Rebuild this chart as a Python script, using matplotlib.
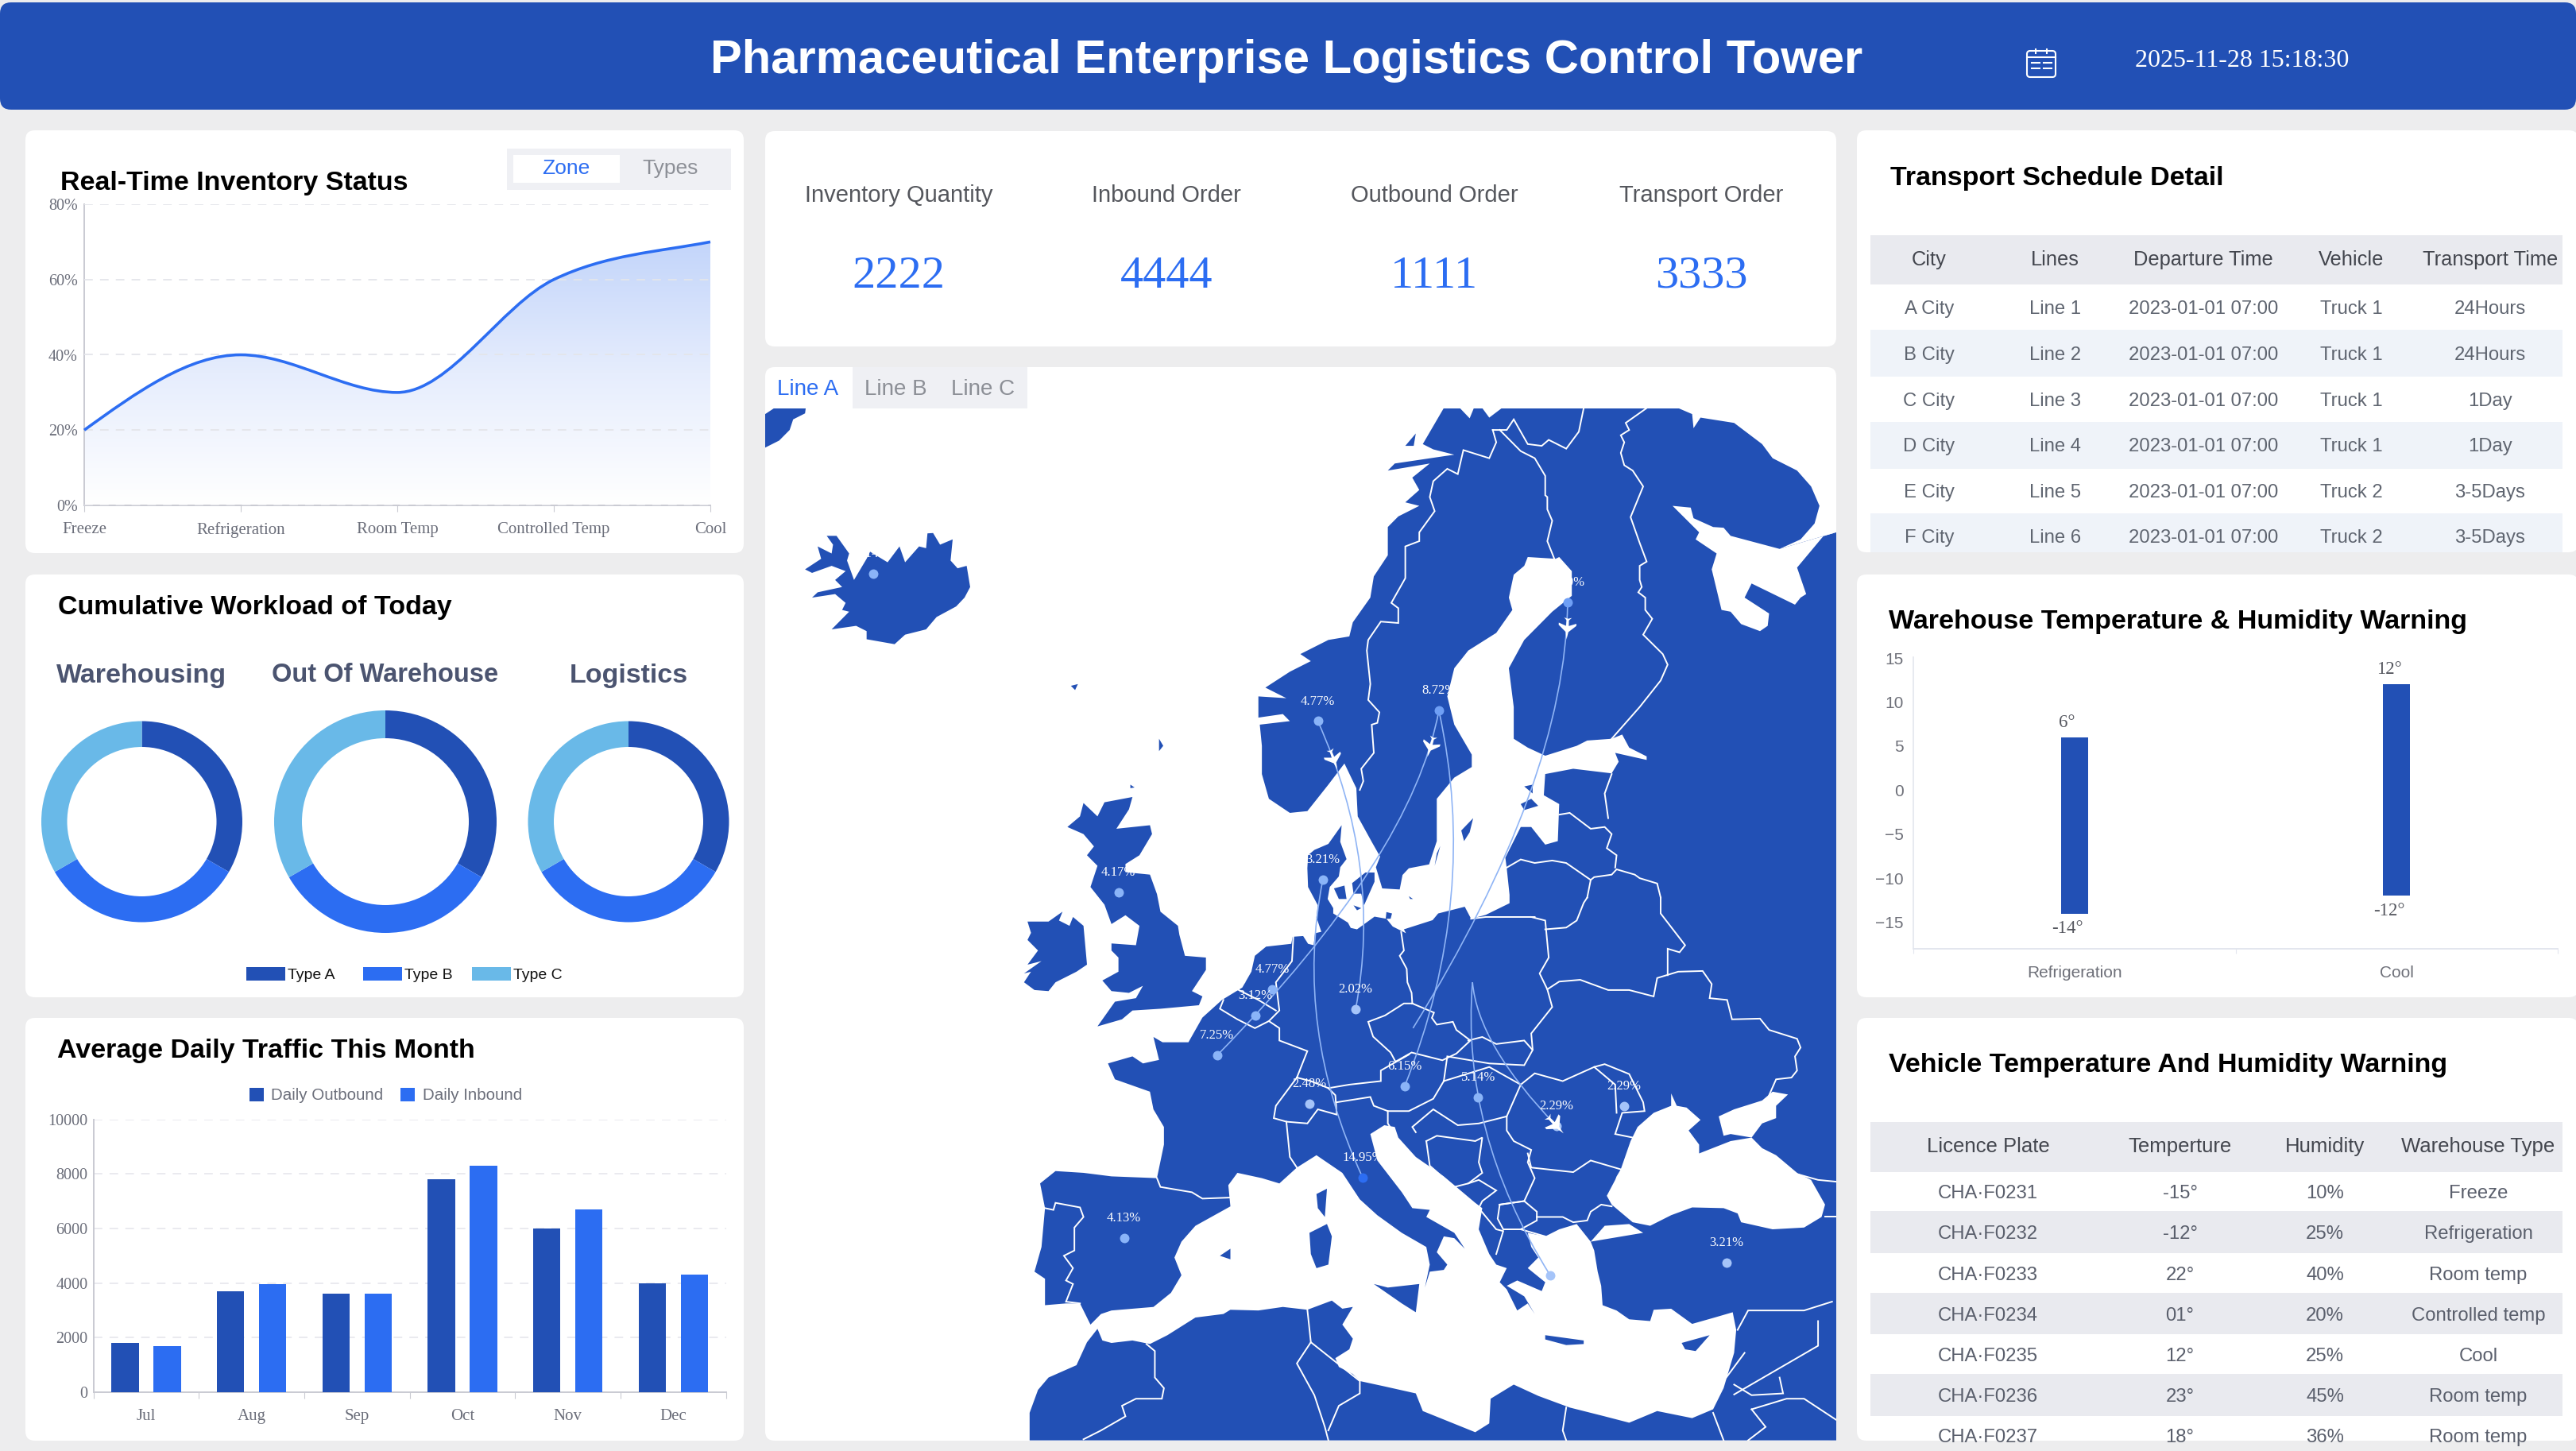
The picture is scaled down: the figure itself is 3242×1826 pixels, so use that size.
import numpy as np
import matplotlib
matplotlib.use("Agg")
from matplotlib import pyplot as plt
from matplotlib.patches import FancyBboxPatch, PathPatch, Polygon, Rectangle
from matplotlib.path import Path
from matplotlib.transforms import Affine2D
from matplotlib.colors import LinearSegmentedColormap

W, H = 3242, 1826
SANS = "Liberation Sans"
SERIF = "Liberation Serif"
DARK = "#2250b5"
MID = "#2c6df2"
LIGHT = "#69b9e8"
BG = "#ededee"

# ---- chart values ----
zones = ["Freeze", "Refrigeration", "Room Temp", "Controlled Temp", "Cool"]
zone_pct = [20, 40, 30, 60, 70]

workload_names = ["Warehousing", "Out Of Warehouse", "Logistics"]
type_names = ["Type A", "Type B", "Type C"]
workload_a = [100, 100, 100]
workload_b = [100, 100, 100]
workload_c = [100, 100, 100]

months = ["Jul", "Aug", "Sep", "Oct", "Nov", "Dec"]
daily_outbound = [1800, 3700, 3600, 7800, 6000, 4000]
daily_inbound = [1700, 3950, 3600, 8300, 6700, 4300]

stat_names = ["Inventory Quantity", "Inbound Order", "Outbound Order", "Transport Order"]
stat_values = ["2222", "4444", "1111", "3333"]

schedule_head = ["City", "Lines", "Departure Time", "Vehicle", "Transport Time"]
schedule_city = ["A City", "B City", "C City", "D City", "E City", "F City"]
schedule_line = ["Line 1", "Line 2", "Line 3", "Line 4", "Line 5", "Line 6"]
schedule_depart = ["2023-01-01 07:00"] * 6
schedule_truck = ["Truck 1", "Truck 1", "Truck 1", "Truck 1", "Truck 2", "Truck 2"]
schedule_time = ["24Hours", "24Hours", "1Day", "1Day", "3-5Days", "3-5Days"]

range_names = ["Refrigeration", "Cool"]
range_high = [6, 12]
range_low = [-14, -12]

vehicle_head = ["Licence Plate", "Temperture", "Humidity", "Warehouse Type"]
vehicle_plate = ["CHA·F0231", "CHA·F0232", "CHA·F0233", "CHA·F0234", "CHA·F0235", "CHA·F0236", "CHA·F0237"]
vehicle_temp = ["-15°", "-12°", "22°", "01°", "12°", "23°", "18°"]
vehicle_hum = ["10%", "25%", "40%", "20%", "25%", "45%", "36%"]
vehicle_type = ["Freeze", "Refrigeration", "Room temp", "Controlled temp", "Cool", "Room temp", "Room temp"]


# ---- map outlines ----
def south(pts):
    return [(x, y + 1530) for x, y in pts]


MAIN_COAST = [
    (985, 143), (1008, 143), (1022, 172), (1028, 143), (1040, 143), (1050, 170), (1068, 143),
    (1320, 143), (1340, 160), (1342, 200), (1352, 170), (1400, 185), (1440, 245), (1455, 285),
    (1490, 320), (1510, 365), (1522, 420), (1515, 470), (1495, 515), (1465, 542), (1546, 495),
    (1546, 3068),
] + south([
    (393, 1538), (393, 1460), (405, 1395), (420, 1360), (460, 1325), (475, 1260), (490, 1222),
    (497, 1255), (510, 1262), (540, 1255), (565, 1265), (590, 1240), (610, 1215), (630, 1190),
    (670, 1180), (680, 1168), (720, 1170), (755, 1160), (790, 1168), (825, 1142), (840, 1165),
    (855, 1160), (840, 1210), (855, 1250), (850, 1280), (830, 1305), (835, 1330), (855, 1350),
    (865, 1370), (900, 1385), (945, 1405), (955, 1455), (1030, 1515), (1050, 1490), (1052, 1420),
    (1085, 1380), (1120, 1412), (1165, 1445), (1215, 1470), (1250, 1488), (1290, 1455),
    (1340, 1475), (1370, 1450), (1385, 1390), (1400, 1290), (1403, 1225), (1398, 1175),
    (1372, 1190), (1340, 1208), (1310, 1165), (1285, 1168), (1280, 1200), (1250, 1195),
    (1232, 1170), (1212, 1155), (1210, 1100), (1205, 1060), (1200, 1000), (1195, 975),
    (1270, 950), (1250, 925), (1215, 930), (1195, 975), (1185, 950), (1175, 925), (1150, 940),
    (1130, 960), (1105, 950), (1110, 990), (1120, 1020), (1105, 1050), (1130, 1090),
    (1125, 1115), (1090, 1085), (1075, 1100), (1100, 1130), (1115, 1180), (1105, 1150),
    (1090, 1170), (1075, 1110), (1065, 1090), (1075, 1050), (1060, 1040), (1050, 1010),
    (1035, 940), (1040, 880), (1030, 865), (985, 790), (945, 735), (920, 680), (915, 650),
    (900, 645), (880, 670), (890, 745), (925, 835), (940, 880), (965, 885), (960, 905),
    (1000, 950), (1015, 995), (1000, 965), (985, 960), (975, 1005), (990, 1040), (985, 1055),
    (965, 1060), (958, 1105), (965, 1040), (960, 990), (925, 950), (890, 900), (865, 855),
    (840, 780), (803, 730), (775, 765), (750, 810), (725, 795), (690, 780), (677, 815),
    (680, 875), (630, 930), (610, 975), (600, 1020), (610, 1070), (595, 1120), (570, 1160),
    (510, 1170), (495, 1180), (480, 1210), (465, 1150), (445, 1150), (415, 1155), (415, 1080),
    (400, 1060), (410, 990), (415, 880), (408, 810), (430, 775), (470, 780), (510, 790),
    (575, 795), (585, 700), (585, 650), (570, 600), (565, 550), (515, 515), (505, 470),
    (540, 450), (555, 470), (578, 460), (570, 395), (583, 410), (620, 410), (640, 340),
    (668, 290), (697, 255), (710, 210),
]) + [
    (715, 1695), (731, 1669), (767, 1661), (769, 1641), (784, 1639), (791, 1661), (799, 1665),
    (801, 1631), (810, 1627), (803, 1586), (805, 1552), (791, 1500), (790, 1447), (791, 1410),
    (800, 1395), (820, 1378), (839, 1325), (837, 1372), (846, 1421), (837, 1444), (835, 1470),
    (822, 1500), (819, 1534), (827, 1560), (827, 1575), (848, 1601), (852, 1616), (861, 1620),
    (886, 1584), (903, 1590), (912, 1612), (924, 1624), (931, 1631), (928, 1620), (969, 1594),
    (977, 1575), (1015, 1556), (1024, 1590), (1045, 1579), (1079, 1546), (1079, 1522),
    (1075, 1447), (1073, 1417), (1095, 1330),
    (1110, 1330), (1130, 1380), (1148, 1370), (1150, 1265), (1128, 1240), (1130, 1180),
    (1170, 1165), (1225, 1178), (1235, 1145), (1230, 1120), (1275, 1140), (1275, 1130),
    (1250, 1105), (1240, 1068), (1225, 1080), (1190, 1085), (1175, 1100), (1130, 1128),
    (1105, 1105), (1085, 1080), (1085, 990), (1078, 880), (1100, 800), (1140, 720), (1168, 675),
    (1168, 605), (1150, 565), (1145, 570), (1105, 565), (1100, 590), (1085, 615), (1078, 680),
    (1083, 715), (1060, 780), (1020, 830), (1000, 880), (990, 960), (1000, 1040), (1025, 1125),
    (1025, 1160), (1000, 1190), (975, 1250), (975, 1370), (964, 1436), (935, 1447), (926, 1466),
    (922, 1507), (897, 1504), (888, 1444), (894, 1414), (882, 1372), (862, 1300), (860, 1220),
    (843, 1150), (820, 1210), (790, 1285),
    (765, 1290), (735, 1250), (725, 1180), (725, 1100), (722, 1040), (765, 1030), (755, 1010),
    (720, 1020), (720, 960), (760, 965), (730, 935), (765, 890), (795, 860), (780, 840),
    (820, 800), (850, 790), (855, 750), (880, 680), (885, 620), (905, 560), (905, 480),
    (920, 450), (950, 420), (930, 410), (950, 375), (940, 340), (965, 300), (905, 320),
    (915, 300), (1000, 275), (970, 260), (955, 245),
]

WHITE_SEA = [
    (1546, 495), (1530, 500), (1490, 595), (1503, 670), (1495, 680), (1487, 700), (1425, 640),
    (1415, 680), (1450, 725), (1448, 760), (1437, 775), (1410, 755), (1395, 720), (1382, 715),
    (1368, 600), (1375, 555), (1345, 515), (1350, 495), (1312, 420), (1338, 425), (1342, 455),
    (1370, 480), (1385, 482), (1395, 505), (1465, 542),
]
BLACK_SEA = south([
    (1232, 790), (1238, 770), (1252, 690), (1262, 650), (1285, 610), (1310, 590), (1310, 555),
    (1318, 590), (1332, 595), (1352, 630), (1335, 660), (1350, 700), (1350, 725), (1395, 690),
    (1425, 680), (1440, 710), (1460, 730), (1490, 780), (1510, 800), (1530, 870), (1525, 905),
    (1500, 935), (1455, 940), (1410, 920), (1405, 895), (1385, 880), (1340, 878), (1310, 900),
    (1280, 930), (1255, 920), (1225, 870), (1218, 845), (1230, 800),
])
AZOV_SEA = south([
    (1385, 675), (1378, 620), (1400, 600), (1440, 575), (1455, 550), (1477, 558), (1460, 590),
    (1460, 625), (1440, 640), (1425, 680), (1395, 670),
])
ISLANDS = [
    # Greenland corner
    [(15, 160), (28, 143), (73, 143), (72, 158), (55, 175), (50, 205), (35, 235), (15, 255)],
    # Iceland
    [(103, 505), (117, 505), (135, 555), (132, 575), (142, 630), (160, 570), (165, 550), (190, 580),
     (207, 535), (215, 580), (235, 535), (245, 540), (247, 498), (255, 497), (265, 530), (283, 515),
     (280, 575), (290, 597), (303, 590), (308, 650), (300, 680), (288, 705), (260, 735), (245, 770),
     (215, 785), (200, 812), (160, 798), (160, 775), (145, 760), (110, 770), (135, 720), (125, 715),
     (130, 695), (115, 670), (82, 680), (90, 665), (125, 650), (115, 630), (130, 605), (110, 590),
     (82, 610), (72, 600), (95, 570), (90, 535), (110, 555), (112, 530)],
    # Great Britain
    [(540, 1245), (535, 1280), (517, 1335), (565, 1325), (568, 1350), (550, 1410), (530, 1435),
     (530, 1458), (565, 1465), (575, 1520), (580, 1570), (605, 1610), (607, 1635), (615, 1695),
     (645, 1700), (645, 1735), (625, 1795), (640, 1810), (635, 1835), (580, 1845), (540, 1850),
     (525, 1875), (490, 1895), (515, 1825), (545, 1815), (555, 1780), (535, 1800), (510, 1795),
     (497, 1765), (520, 1740), (520, 1700), (510, 1680), (510, 1660), (545, 1665), (550, 1610),
     (530, 1580), (510, 1605), (500, 1550), (480, 1500), (490, 1440), (475, 1410), (485, 1385),
     (470, 1350), (447, 1330), (465, 1300), (470, 1262), (490, 1300), (500, 1260)],
    # Ireland
    south([(390, 68), (420, 68), (440, 40), (435, 65), (450, 80), (455, 55), (470, 80), (475, 190),
           (460, 210), (430, 240), (420, 265), (400, 262), (385, 240), (395, 210), (385, 215),
           (410, 180), (390, 190), (405, 150), (390, 120), (395, 100)]),
    # Mediterranean islands
    south([(885, 1095), (905, 1105), (950, 1095), (945, 1175), (925, 1150)]),
    south([(793, 950), (818, 925), (825, 960), (820, 1040), (803, 1050), (795, 1010)]),
    south([(803, 840), (818, 825), (815, 905), (805, 880)]),
    south([(665, 1015), (680, 995), (680, 1025)]),
    south([(1130, 1240), (1185, 1255), (1185, 1265), (1160, 1268), (1130, 1252)]),
    south([(1325, 1262), (1365, 1240), (1345, 1285), (1330, 1280)]),
    # Baltic and northern bits
    [(1010, 1340), (1027, 1305), (1022, 1345), (1014, 1370)],
    [(1095, 1265), (1110, 1250), (1120, 1270), (1100, 1282)],
    [(1100, 1215), (1112, 1210), (1112, 1235)],
    [(828, 1504), (843, 1496), (846, 1534), (835, 1534)],
    [(854, 1489), (873, 1459), (886, 1459), (886, 1485), (871, 1552), (867, 1519), (856, 1519)],
    [(856, 1552), (867, 1560), (861, 1566)],
    [(903, 1571), (911, 1575), (909, 1590), (902, 1590)],
    [(935, 1526), (941, 1534), (937, 1534)],
    [(980, 1384), (972, 1440), (975, 1405)],
    [(452, 930), (462, 925), (458, 942)],
    [(578, 1080), (584, 1100), (578, 1115)],
    [(537, 1210), (543, 1218), (537, 1220)],
    [(930, 250), (945, 215), (942, 250)],
]
BORDERS = [
    [(1055, 205), (1075, 205), (1085, 175), (1105, 245), (1125, 250), (1135, 233), (1160, 258),
     (1178, 210), (1185, 143)],
    [(1055, 205), (1060, 240), (1050, 285), (1013, 262), (1005, 330), (990, 315), (970, 350),
     (965, 395), (972, 435), (950, 495), (950, 520), (930, 535), (930, 625), (910, 695), (920, 710),
     (920, 752), (895, 748), (877, 800), (875, 830), (880, 925), (877, 970), (893, 1005), (890, 1035),
     (882, 1040), (885, 1120), (867, 1165), (870, 1200), (865, 1225)],
    [(1065, 205), (1095, 265), (1115, 285), (1130, 335), (1130, 390), (1133, 395), (1133, 430),
     (1140, 462), (1133, 520), (1143, 570)],
    [(1275, 143), (1245, 185), (1250, 205), (1238, 220), (1243, 240), (1238, 270), (1243, 305),
     (1255, 320), (1270, 365), (1252, 452), (1265, 525), (1275, 578), (1265, 590), (1265, 630),
     (1268, 650), (1263, 665), (1273, 680), (1273, 715), (1283, 740), (1270, 785), (1298, 840),
     (1305, 870), (1295, 915), (1265, 990), (1225, 1080)],
    [(1225, 1180), (1215, 1235), (1220, 1305)],
    [(1150, 1295), (1165, 1290), (1195, 1335), (1215, 1330), (1225, 1350), (1218, 1390), (1232, 1410),
     (1230, 1445)],
    [(1075, 1445), (1095, 1422), (1115, 1432), (1140, 1425), (1160, 1432), (1195, 1480), (1200, 1472),
     (1225, 1465), (1232, 1450), (1258, 1465), (1265, 1475), (1290, 1490), (1295, 1530)],
    [(1195, 1480), (1190, 1530)],
    # Germany / Poland and Czechia, from the closer look
    [(924, 1627), (928, 1680), (922, 1695), (932, 1732), (933, 1770), (939, 1800), (940, 1830)],
    [(940, 1830), (928, 1830), (901, 1864), (877, 1882), (884, 1924), (909, 1969), (916, 1995),
     (939, 1969), (983, 1991), (1003, 1972), (1023, 1935), (1003, 1905), (998, 1882), (975, 1890),
     (968, 1871), (971, 1856), (940, 1830)],
] + [south(b) for b in [
    [(1110, 55), (1130, 65), (1135, 170), (1122, 215), (1133, 260), (1140, 310), (1110, 385), (1112, 430)],
    [(1024, 60), (1045, 55), (1115, 55)],
    [(1130, 90), (1160, 85), (1175, 65), (1185, 15), (1190, 0)],
    [(1133, 260), (1150, 238), (1180, 233), (1220, 262), (1250, 262), (1285, 280), (1290, 228),
     (1320, 210), (1355, 208), (1368, 245), (1365, 285), (1390, 290), (1397, 345), (1437, 343),
     (1450, 375), (1490, 400), (1495, 425), (1487, 450), (1490, 490), (1482, 510), (1460, 515), (1450, 560)],
    [(1295, 0), (1295, 45), (1330, 135), (1322, 155), (1305, 145), (1305, 220)],
    [(770, 110), (768, 180), (745, 240), (750, 320), (735, 350), (750, 370), (750, 405), (790, 435),
     (775, 510), (745, 590), (742, 625), (760, 635), (790, 640), (805, 600), (832, 615), (830, 560),
     (820, 540), (795, 520), (775, 510)],
    [(670, 290), (665, 315), (690, 345), (715, 370), (735, 350)],
    [(700, 240), (690, 260), (720, 290), (745, 320)],
    [(760, 635), (765, 735), (775, 765)],
    [(832, 580), (880, 565), (885, 590), (905, 605), (905, 640), (915, 670)],
    [(820, 540), (850, 530), (895, 520), (895, 490), (935, 445)],
    [(1020, 405), (1040, 395), (1060, 415), (1100, 405), (1112, 432), (1100, 475), (1050, 470), (990, 450), (985, 520)],
    [(985, 520), (970, 570), (935, 605), (905, 605)],
    [(985, 520), (1050, 480), (1095, 530), (1075, 620), (1035, 640), (1005, 645), (970, 600), (940, 650), (945, 665)],
    [(1095, 530), (1115, 498), (1155, 520), (1200, 480), (1215, 472), (1250, 500), (1270, 580), (1272, 605),
     (1240, 610), (1230, 670), (1255, 680)],
    [(1200, 480), (1230, 530), (1232, 610)],
    [(1105, 725), (1110, 765), (1170, 778), (1195, 745), (1238, 770)],
    [(1075, 620), (1075, 660), (1085, 690), (1110, 715), (1105, 750), (1115, 795), (1100, 860), (1065, 870)],
    [(960, 690), (975, 675), (1030, 690), (1040, 680), (1035, 750), (1040, 780), (1020, 810), (1000, 820)],
    [(960, 690), (965, 760), (1000, 820)],
    [(1020, 810), (1035, 800), (1060, 830), (1040, 860), (1035, 880), (1060, 940), (1070, 945), (1060, 1010)],
    [(1065, 870), (1100, 860), (1118, 890), (1118, 915), (1095, 940), (1070, 940), (1062, 910), (1065, 870)],
    [(1118, 905), (1155, 905), (1170, 920), (1190, 915), (1195, 890), (1210, 870), (1225, 875)],
    [(1095, 940), (1130, 960)],
    [(415, 880), (427, 885), (430, 865), (465, 878), (470, 905), (457, 935), (457, 1000), (442, 1015),
     (455, 1050), (445, 1085), (455, 1095), (445, 1145), (465, 1150)],
    [(575, 795), (580, 820), (625, 835), (640, 853), (680, 850)],
    [(560, 1265), (572, 1285), (572, 1360), (585, 1390), (582, 1420), (545, 1420), (525, 1440), (530, 1470),
     (495, 1510), (470, 1535)],
    [(790, 1168), (795, 1260), (775, 1320), (800, 1410), (815, 1500), (820, 1538)],
    [(795, 1260), (865, 1370), (865, 1405), (835, 1440), (820, 1510)],
    [(1160, 1445), (1155, 1510), (1160, 1538)],
    [(1370, 1460), (1385, 1538)],
    [(1405, 1225), (1420, 1170), (1460, 1170), (1500, 1170), (1540, 1145)],
    [(1520, 1200), (1520, 1270), (1400, 1408)],
    [(1400, 1380), (1425, 1410), (1470, 1405), (1465, 1360)],
    [(1425, 1450), (1475, 1420), (1500, 1420), (1546, 1480)],
    [(1425, 1450), (1445, 1500), (1420, 1538)],
    [(1415, 1290), (1400, 1330), (1385, 1370)],
    [(1530, 905), (1546, 905)],
    [(1493, 785), (1520, 800), (1546, 805)],
]]

# city dots: (x, y, share label, dot colour)
CITIES = {
    "iceland": (169, 613, "4.14%", "#8ab4f8"),
    "finland": (1162, 694, "2.10%", "#6f9ff5"),
    "sweden": (978, 1000, "8.72%", "#6f9ff5"),
    "norway": (805, 1030, "4.77%", "#8ab4f8"),
    "denmark": (812, 1480, "3.21%", "#8ab4f8"),
    "uk": (520, 1516, "4.17%", "#8ab4f8"),
    "netherlands": (740, 1790, "4.77%", "#8ab4f8"),
    "belgium": (716, 1865, "3.12%", "#8ab4f8"),
    "france": (661, 1977, "7.25%", "#8ab4f8"),
    "germany": (859, 1846, "2.02%", "#a5c4f9"),
    "switzerland": (793, 2115, "2.48%", "#a5c4f9"),
    "austria": (929, 2065, "6.15%", "#8ab4f8"),
    "hungary": (1034, 2096, "5.14%", "#8ab4f8"),
    "romania": (1146, 2177, "2.29%", "#a5c4f9"),
    "moldova": (1243, 2120, "2.29%", "#a5c4f9"),
    "italy": (869, 2323, "14.95%", "#2c6df2"),
    "spain": (528, 2495, "4.13%", "#8ab4f8"),
    "turkey": (1389, 2565, "3.21%", "#a5c4f9"),
}
GREECE = (1137, 2600)
HUB_EAST = (1026, 1770)
POLAND_END = (941, 1900)
# flight arcs: start, end, bend point, where the plane sits along the arc (None for no plane)
ROUTES = [
    (CITIES["finland"][:2], POLAND_END, (1159, 1203), 0.07),
    (CITIES["sweden"][:2], CITIES["france"][:2], (940, 1412), 0.12),
    (CITIES["sweden"][:2], CITIES["austria"][:2], (1037, 1528), None),
    (CITIES["norway"][:2], CITIES["germany"][:2], (898, 1442), 0.13),
    (CITIES["denmark"][:2], CITIES["italy"][:2], (770, 1899), None),
    (HUB_EAST, GREECE, (1009, 2195), None),
    (HUB_EAST, CITIES["romania"][:2], (1034, 1947), 0.99),
]
PLANE = Path([(0, 1), (0.12, 0.35), (0.8, -0.25), (0.8, -0.45), (0.12, -0.2), (0.1, -0.7), (0.35, -0.95),
              (0, -0.85), (-0.35, -0.95), (-0.1, -0.7), (-0.12, -0.2), (-0.8, -0.45), (-0.8, -0.25),
              (-0.12, 0.35), (0, 1)])

fig = plt.figure(figsize=(W / 100, H / 100), dpi=100, facecolor=BG)
base = fig.add_axes([0, 0, 1, 1])
base.set_xlim(0, W)
base.set_ylim(H, 0)
base.axis("off")


def px_axes(x0, y0, x1, y1, **kw):
    return fig.add_axes([x0 / W, 1 - y1 / H, (x1 - x0) / W, (y1 - y0) / H], **kw)


def panel(x0, y0, x1, y1, color="white", r=12):
    base.add_patch(FancyBboxPatch((x0, y0), x1 - x0, y1 - y0, boxstyle=f"round,pad=0,rounding_size={r}",
                                  fc=color, ec="none", zorder=1))


def label(x, y, s, size, color="#000000", font=SANS, weight="normal", ha="center", **kw):
    # va=center sits a little high against the picture, hence the 2 px
    return base.text(x, y + 2, s, fontsize=size, color=color, family=font, fontweight=weight,
                     ha=ha, va="center", zorder=5, **kw)


def rect(x0, y0, x1, y1, color):
    base.add_patch(Rectangle((x0, y0), x1 - x0, y1 - y0, fc=color, ec="none", zorder=2))


def grid_style(ax, color="#c9cad2"):
    for side in ["top", "right"]:
        ax.spines[side].set_visible(False)
    for side in ["left", "bottom"]:
        ax.spines[side].set_color(color)
        ax.spines[side].set_linewidth(1.4)
    ax.set_facecolor("none")


# header
panel(0, 3, W, 138, DARK, r=14)
label(1619, 74, "Pharmaceutical Enterprise Logistics Control Tower", 43, "white", weight="bold")
label(2822, 74, "2025-11-28 15:18:30", 23, "white", font=SERIF)
# calendar icon
base.add_patch(FancyBboxPatch((2551, 64), 36, 33, boxstyle="round,pad=0,rounding_size=4", fc="none", ec="white", lw=1.5, zorder=5))
base.plot([2551, 2587], [72, 72], color="white", lw=1.5, zorder=5)
base.plot([2562, 2562], [62, 67], color="white", lw=1.5, zorder=5)
base.plot([2576, 2576], [62, 67], color="white", lw=1.5, zorder=5)
for cy in [79, 86]:
    base.plot([2557, 2567], [cy, cy], color="white", lw=1.5, zorder=5)
    base.plot([2572, 2582], [cy, cy], color="white", lw=1.5, zorder=5)

# panels
panel(32, 164, 936, 696)
panel(32, 723, 936, 1255)
panel(32, 1281, 936, 1813)
panel(963, 165, 2311, 436)
panel(963, 462, 2311, 1813)
panel(2337, 164, 3245, 695)
panel(2337, 723, 3245, 1255)
panel(2337, 1281, 3245, 1813)

# ---- inventory line ----
label(76, 228, "Real-Time Inventory Status", 24.5, weight="bold", ha="left")
rect(638, 187, 920, 239, "#eff0f4")
rect(646, 195, 780, 230, "white")
label(712, 210, "Zone", 19, MID)
label(844, 210, "Types", 19, "#8c8f96")

ax = px_axes(106, 257, 894, 636)
grid_style(ax)
ax.set_xlim(0, len(zones) - 1)
ax.set_ylim(0, 80)
xs = np.arange(len(zones), dtype=float)
ys = np.array(zone_pct, dtype=float)
# tangents for the smoothed line: flat at turning points
steps = np.diff(ys)
tang = np.zeros(len(ys))
for i in range(1, len(ys) - 1):
    tang[i] = 0 if steps[i - 1] * steps[i] <= 0 else (steps[i - 1] + steps[i]) / 2
tang[0] = 1.5 * steps[0]
tang[-1] = 0.8 * steps[-1]
verts = [(xs[0], ys[0])]
codes = [Path.MOVETO]
for i in range(len(xs) - 1):
    verts += [(xs[i] + 1 / 3, ys[i] + tang[i] / 3), (xs[i + 1] - 1 / 3, ys[i + 1] - tang[i + 1] / 3), (xs[i + 1], ys[i + 1])]
    codes += [Path.CURVE4] * 3
curve = Path(verts, codes)
area = Path(verts + [(xs[-1], 0), (xs[0], 0), (xs[0], ys[0])], codes + [Path.LINETO, Path.LINETO, Path.LINETO])
fade = LinearSegmentedColormap.from_list("fade", ["#ffffff", "#e6edfd", "#c3d5fa"])
img = ax.imshow(np.linspace(1, 0, 256).reshape(-1, 1), extent=[0, 4, 0, 70], cmap=fade, aspect="auto", zorder=1)
img.set_clip_path(PathPatch(area, transform=ax.transData))
ax.add_patch(PathPatch(curve, fc="none", ec=MID, lw=2.6, zorder=3, clip_on=False))
ax.set_xlim(0, len(zones) - 1)
ax.set_ylim(0, 80)
ax.set_yticks([0, 20, 40, 60, 80])
ax.set_yticklabels([f"{v}%" for v in [0, 20, 40, 60, 80]], family=SERIF, fontsize=14.5, color="#6b6e7a")
ax.set_xticks(xs)
ax.set_xticklabels(zones, family=SERIF, fontsize=15, color="#6b6e7a")
ax.tick_params(axis="y", length=0, pad=6)
ax.tick_params(axis="x", length=6, color="#c9cad2", pad=9)
ax.grid(axis="y", color="#e4e5ea", ls=(0, (6, 5)), lw=1.3, zorder=2)
ax.set_axisbelow(False)

# ---- workload donuts ----
label(73, 762, "Cumulative Workload of Today", 24.5, weight="bold", ha="left")
donut_px = [(178.5, 126.5, 94, 24.5), (485, 140, 105, 23.5), (791, 126.5, 94, 24.5)]
for i, name in enumerate(workload_names):
    cx, r_out, r_in, title_size = donut_px[i]
    label(cx, 848, name, title_size, "#4b5470", weight="bold")
    dax = px_axes(cx - r_out, 1034 - r_out, cx + r_out, 1034 + r_out)
    dax.pie([workload_a[i], workload_b[i], workload_c[i]], colors=[DARK, MID, LIGHT], startangle=90, counterclock=False,
            radius=1, wedgeprops={"width": (r_out - r_in) / r_out, "linewidth": 0})
    dax.set_xlim(-1, 1)
    dax.set_ylim(-1, 1)
for x0, c, name in zip([310, 457, 594], [DARK, MID, LIGHT], type_names):
    base.add_patch(Rectangle((x0, 1217), 49, 17, fc=c, ec="none", zorder=4))
    label(x0 + 52, 1226, name, 14, "#111111", ha="left")

# ---- daily traffic bars ----
label(72, 1320, "Average Daily Traffic This Month", 24.5, weight="bold", ha="left")
base.add_patch(Rectangle((314, 1369), 18, 17, fc=DARK, ec="none", zorder=4))
label(341, 1376, "Daily Outbound", 14.8, "#6b6e7a", ha="left")
base.add_patch(Rectangle((504, 1369), 18, 17, fc=MID, ec="none", zorder=4))
label(532, 1376, "Daily Inbound", 14.8, "#6b6e7a", ha="left")

ax = px_axes(117.6, 1408.7, 913.6, 1752)
grid_style(ax)
pos = np.arange(len(months)) + 0.5
ax.bar(pos - 0.2, daily_outbound, 0.258, color=DARK, zorder=3)
ax.bar(pos + 0.2, daily_inbound, 0.258, color=MID, zorder=3)
ax.set_xlim(0, len(months))
ax.set_ylim(0, 10000)
ax.set_yticks(range(0, 10001, 2000))
ax.set_yticklabels([str(v) for v in range(0, 10001, 2000)], family=SERIF, fontsize=14.5, color="#6b6e7a")
ax.set_xticks(range(len(months) + 1))
ax.set_xticklabels([])
ax.set_xticks(pos, minor=True)
ax.set_xticklabels(months, minor=True, family=SERIF, fontsize=15, color="#6b6e7a")
ax.tick_params(axis="y", length=0, pad=5)
ax.tick_params(axis="x", which="major", length=6, color="#c9cad2")
ax.tick_params(axis="x", which="minor", length=0, pad=15)
ax.grid(axis="y", color="#e8e8ee", ls=(0, (6, 5)), lw=1.3, zorder=1)
ax.set_axisbelow(True)

# ---- counters ----
for cx, name, val in zip([1131, 1468, 1805, 2141], stat_names, stat_values):
    label(cx, 244, name, 21, "#54565c")
    label(cx, 346, val, 42, MID, font=SERIF)

# ---- map ----
rect(1073, 462, 1293, 514, "#eff0f4")
label(1017, 488, "Line A", 20, MID)
label(1127, 488, "Line B", 20, "#8c8f96")
label(1237, 488, "Line C", 20, "#8c8f96")

mp = px_axes(963, 514, 2311, 1812.6)
mp.set_xlim(15, 1546)
mp.set_ylim(3068, 144)
mp.axis("off")
mp.add_patch(Polygon(MAIN_COAST, closed=True, fc=DARK, ec="none", zorder=1))
for sea in [WHITE_SEA, BLACK_SEA, AZOV_SEA]:
    mp.add_patch(Polygon(sea, closed=True, fc="white", ec="none", zorder=2))
for isl in ISLANDS:
    mp.add_patch(Polygon(isl, closed=True, fc=DARK, ec="none", zorder=3))
for line in BORDERS:
    bx, by = zip(*line)
    mp.plot(bx, by, color="white", lw=1.4, solid_joinstyle="miter", zorder=4)

PX_X, PX_Y = 1 / 1.136, 1 / 2.25
for start, end, bend, plane_t in ROUTES:
    mp.add_patch(PathPatch(Path([start, bend, end], [Path.MOVETO, Path.CURVE3, Path.CURVE3]),
                           fc="none", ec="#8fb4f5", lw=1.2, zorder=5))
    if plane_t is not None:
        p0, p1, p2 = map(np.array, (start, bend, end))
        pt = (1 - plane_t) ** 2 * p0 + 2 * plane_t * (1 - plane_t) * p1 + plane_t ** 2 * p2
        d = 2 * (1 - plane_t) * (p1 - p0) + 2 * plane_t * (p2 - p1)
        heading = np.arctan2(-d[1] * PX_Y, d[0] * PX_X) - np.pi / 2
        mp.plot(pt[0], pt[1], marker=PLANE.transformed(Affine2D().rotate(heading)), ms=20, mfc="white", mec="none", zorder=7)

for x, y, share, color in CITIES.values():
    mp.plot(x, y, "o", ms=8.6, mfc=color, mec="none", zorder=6)
    mp.text(x, y - 56, share, color="white", fontsize=12, family=SERIF, ha="center", va="center", zorder=6, clip_on=True)
mp.plot(GREECE[0], GREECE[1], "o", ms=8.6, mfc="#a5c4f9", mec="none", zorder=6)


# ---- tables ----
def table(rows_y, band_spans, head_span, head_y, head_x, head, columns, clip_y, head_size, body_size, band_color, body_color):
    rect(2354, head_span[0], 3225, head_span[1], "#e9eaef")
    for y0, y1 in band_spans:
        rect(2354, y0, 3225, min(y1, clip_y), band_color)
    clip = Rectangle((2337, 164), 908, clip_y - 164, transform=base.transData)
    for x, s in zip(head_x, head):
        label(x, head_y, s, head_size, "#43464e")
    for x, col in zip(head_x, columns):
        for y, s in zip(rows_y, col):
            t = label(x, y, s, body_size, body_color)
            t.set_clip_path(clip)


label(2379, 223, "Transport Schedule Detail", 24.5, weight="bold", ha="left")
table([387, 445, 503, 560, 618, 675], [(415, 474), (531, 590), (646, 695)], (296, 358), 325,
      [2428, 2586.5, 2773, 2959, 3134], schedule_head,
      [schedule_city, schedule_line, schedule_depart, schedule_truck, schedule_time],
      695, 18.3, 17.2, "#eff3f9", "#5f6570")

label(2377, 781, "Warehouse Temperature & Humidity Warning", 24.5, weight="bold", ha="left")
ax = px_axes(2408, 827, 3219, 1194)
grid_style(ax, "#e3e6ee")
ax.spines["left"].set_linewidth(1.2)
pos = np.arange(len(range_names)) + 0.5
high = np.array(range_high)
low = np.array(range_low)
ax.bar(pos, high - low, 0.084, bottom=low, color=DARK, zorder=3)
ax.set_xlim(0, len(range_names))
ax.set_ylim(-18, 15.1)
ax.set_yticks(range(-15, 16, 5))
ax.set_yticklabels([str(v).replace("-", "\u2212") for v in range(-15, 16, 5)], family=SANS, fontsize=15, color="#6e7079")
ax.set_xticks(range(len(range_names) + 1))
ax.set_xticklabels([])
ax.set_xticks(pos, minor=True)
ax.set_xticklabels(range_names, minor=True, family=SANS, fontsize=15, color="#6e7079")
ax.tick_params(axis="y", length=0, pad=9)
ax.tick_params(axis="x", which="major", length=4, color="#e3e6ee")
ax.tick_params(axis="x", which="minor", length=0, pad=15)
for p, hi, lo in zip(pos, range_high, range_low):
    ax.annotate(f"{hi}°", (p, hi), xytext=(-6.5, 6), textcoords="offset points", ha="center", va="bottom",
                family=SERIF, fontsize=16.5, color="#55575f")
    ax.annotate(f"{lo}°", (p, lo), xytext=(-6.5, -6), textcoords="offset points", ha="center", va="top",
                family=SERIF, fontsize=16.5, color="#55575f")

label(2377, 1339, "Vehicle Temperature And Humidity Warning", 24.5, weight="bold", ha="left")
table([1500, 1551, 1602.6, 1654, 1705, 1756, 1807], [(1524, 1577), (1627, 1679.5), (1729, 1782)], (1411.6, 1475), 1441,
      [2502, 2743.5, 2926, 3119], vehicle_head,
      [vehicle_plate, vehicle_temp, vehicle_hum, vehicle_type],
      1813, 18.5, 17.2, "#e9eaef", "#5a5f6c")

fig.savefig("out.png", dpi=100, facecolor=BG)
plt.close("all")
